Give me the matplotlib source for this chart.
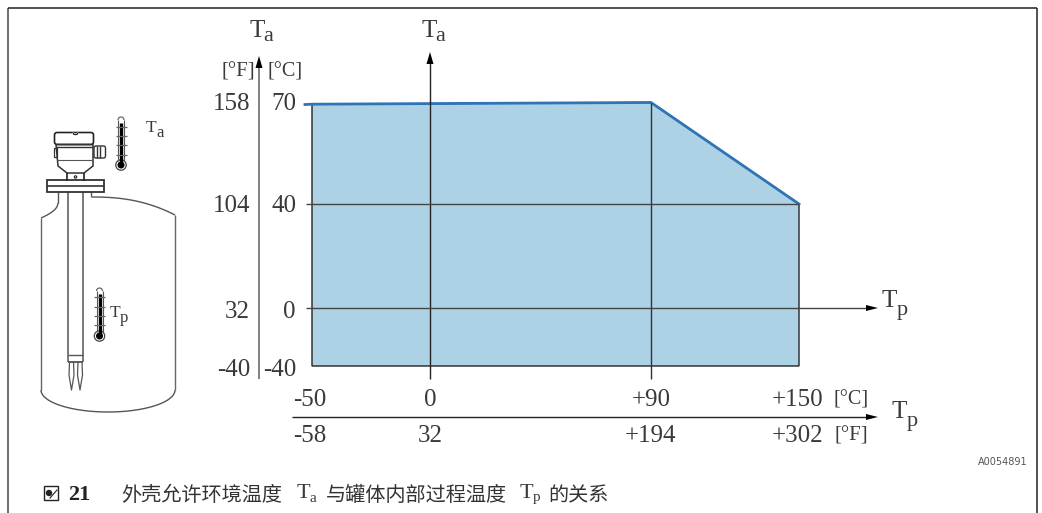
import numpy as np
import matplotlib
matplotlib.use("Agg")
import matplotlib.pyplot as plt
from matplotlib.patches import Circle, FancyBboxPatch, Rectangle

# Values
temp_c = [-50, -50, 90, 150, 150]
ambient_c = [-40, 69.5, 70, 40, -40]
limit_c = [-53, -50, 90, 150]
limit_ambient = [69.4, 69.5, 70, 40]
x_labels_c = ["-50", "0", "+90"]
x_labels_f = ["-58", "32", "+194"]
y_labels_c = ["70", "40", "0", "-40"]
y_labels_f = ["158", "104", "32", "-40"]

# The axes are schematic, so each scale is piecewise between the ticks
x_knots = [-180, -53, -50, 0, 90, 150, 500]
x_pixels = [0, 305, 312, 430, 651, 799, 1042]
y_knots = [-150, -40, 0, 40, 70, 200]
y_pixels = [513, 366, 308, 204, 102.5, 0]

WIDTH, HEIGHT = 1042, 513
TEXT = "#3a3a3a"
LINE = "#333333"
SERIF = "Liberation Serif"
CJK = "Noto Sans CJK SC"


def x_forward(v):
    return np.interp(v, x_knots, x_pixels)


def x_inverse(v):
    return np.interp(v, x_pixels, x_knots)


def y_forward(v):
    return HEIGHT - np.interp(v, y_knots, y_pixels)


def y_inverse(v):
    return np.interp(v, HEIGHT - np.array(y_pixels), y_knots)


fig = plt.figure(figsize=(WIDTH / 100, HEIGHT / 100), dpi=100)

# Chart area, drawn through the scales
ax = fig.add_axes([0, 0, 1, 1])
ax.set_xscale("function", functions=(x_forward, x_inverse))
ax.set_yscale("function", functions=(y_forward, y_inverse))
ax.set_xlim(-180, 500)
ax.set_ylim(-150, 200)
ax.axis("off")
ax.fill(temp_c, ambient_c, facecolor="#add2e6", edgecolor="#222222", linewidth=1.0, zorder=1)
ax.plot(limit_c, limit_ambient, color="#2f74b5", linewidth=2.0, zorder=4)

# Everything else is placed in pixels
px = fig.add_axes([0, 0, 1, 1])
px.set_xlim(0, WIDTH)
px.set_ylim(HEIGHT, 0)
px.axis("off")


def line(xs, ys, color=LINE, lw=1.0, z=3):
    px.plot(xs, ys, color=color, linewidth=lw, solid_capstyle="butt", zorder=z)


def head_up(x, tip, size=12):
    px.fill([x, x - 3.5, x + 3.5], [tip, tip + size, tip + size], color="black", lw=0, zorder=5)


def head_right(tip, y, size=12):
    px.fill([tip, tip - size, tip - size], [y, y - 3, y + 3], color="black", lw=0, zorder=5)


def label(x, y, s, size=18, ha="center", color=TEXT, **kw):
    px.text(x, y, s, fontsize=size, ha=ha, va="center_baseline", color=color, family=SERIF, **kw)


def symbol(x, base, main, sub, size=18, sub_size=16, gap=14.5, drop=4):
    px.text(x, base, main, fontsize=size, ha="left", va="baseline", color=TEXT, family=SERIF)
    px.text(x + gap, base + drop, sub, fontsize=sub_size, ha="left", va="baseline", color=TEXT, family=SERIF)


# Frame
line([8, 8], [8, 513], color="#555555", lw=1.2)
line([8, 1037], [8, 8], color="#222222", lw=1.1)
line([1037, 1037], [8, 513], color="#222222", lw=1.1)

# Axis lines and ticks
line([259, 259], [62, 379], color="#777777", lw=1.3)
head_up(259, 56)
line([430, 430], [60, 379], color="#222222", lw=1.0)
head_up(430, 52)
line([651, 651], [103, 379], color="#333333", lw=1.0)
line([306, 799], [204, 204], color="#444444", lw=1.0)
line([306, 870], [308, 308], color="#444444", lw=1.0)
head_right(878, 308)
line([292, 870], [417, 417], color="#222222", lw=1.0)
head_right(878, 417)

# Axis labels
symbol(249, 37, "T", "a")
symbol(421, 37, "T", "a")
symbol(882, 307, "T", "p", drop=8)
symbol(892, 418, "T", "p", drop=8)
label(238, 69, "[°F]", size=15)
label(285, 69, "[°C]", size=14.5)

for s_f, s_c, y in zip(y_labels_f, y_labels_c, [101, 204, 310, 367]):
    label(250, y, s_f, ha="right")
    label(296, y, s_c, ha="right")
for s_c, s_f, x in zip(x_labels_c, x_labels_f, [310, 430, 651]):
    label(x, 398, s_c)
    label(x, 434, s_f)
label(772, 398, "+150", ha="left")
label(772, 434, "+302", ha="left")
label(851, 398, "[°C]", size=14.5)
label(851, 434, "[°F]", size=15)

px.text(1028, 462, "A0054891", fontsize=7, ha="right", va="center", color="#555555", family="DejaVu Sans")

# Caption
px.add_patch(Rectangle((44, 486), 14, 14, fill=False, edgecolor="#222222", linewidth=1.0))
px.add_patch(Circle((49, 493), 2.5, color="#222222"))
px.plot([50, 57], [498, 490], color="#222222", linewidth=0.8)
label(68, 493, "21", ha="left", size=16, color="#222222", fontweight="bold")
caption = [(121, "外壳允许环境温度"), (326, "与罐体内部过程温度"), (548, "的关系")]
for x, s in caption:
    px.text(x, 493, s, fontsize=14.5, ha="left", va="center_baseline", color="#333333", family=CJK, fontweight="light")
symbol(297, 498, "T", "a", size=16, sub_size=11, gap=12.5, drop=4)
symbol(520, 498, "T", "p", size=16, sub_size=11, gap=12.5, drop=3)

# Tank outline
t = np.linspace(0, 1, 30)
line([58, 58], [192, 203], color="#555555")
line(58 - 17 * t, 203 + 15 * t ** 0.5, color="#555555")
line([91, 91], [192, 196], color="#555555")
line(91 + 84 * t, 197 + 18 * t ** 2.4, color="#555555")
line([41, 41], [218, 390], color="#666666")
line([175, 175], [215, 390], color="#666666")
a = np.linspace(np.pi, 0, 60)
line(108 + 67 * np.cos(a), 390 + 22 * np.sin(a), color="#555555")

# Probe and fork
line([68, 68], [192, 362], color="#555555", lw=1.1)
line([83, 83], [192, 362], color="#555555", lw=1.1)
line([68, 83], [355, 355], color="#555555")
line([68, 83], [362, 362], color="#444444", lw=1.2)
for x0 in [71.5, 80]:
    line([x0 - 2, x0 - 2.5, x0, x0 + 2.5, x0 + 2], [362, 375, 390, 375, 362], color="#555555", lw=0.9)

# Flange
px.add_patch(Rectangle((47, 180), 56.5, 12, fill=False, edgecolor="#333333", linewidth=1.3, zorder=3))
line([47, 103.5], [186, 186], color="#333333", lw=1.2)

# Housing
px.add_patch(FancyBboxPatch((54.5, 132.5), 39, 12, boxstyle="round,pad=0,rounding_size=2.5", facecolor="white", edgecolor="#222222", linewidth=1.2))
line([73, 74, 77, 78], [132.5, 134.5, 134.5, 132.5], color="white", lw=1.4, z=4)
line([73, 74, 77, 78], [132.5, 134.5, 134.5, 132.5], color="#222222", lw=0.9, z=5)
px.fill([56, 93, 93, 84, 67, 58], [144.5, 144.5, 166, 173, 173, 166], fill=False, edgecolor="#333333", linewidth=1.1)
line([56, 93], [147, 147], color="#333333")
line([56.5, 92.5], [160, 160], color="#555555", lw=0.8)
line([67, 67], [173, 181], color="#222222", lw=1.2)
line([84, 84], [173, 181], color="#222222", lw=1.2)
px.add_patch(Circle((75.5, 177), 1.2, fill=False, edgecolor="#222222", linewidth=0.8))
px.add_patch(FancyBboxPatch((94, 146), 11.5, 12, boxstyle="round,pad=0,rounding_size=2", fill=False, edgecolor="#333333", linewidth=1.0))
line([97, 97], [146, 158], color="#333333")
line([100, 100], [146, 158], color="#333333")
px.add_patch(Rectangle((54, 148), 3, 9, fill=False, edgecolor="#333333", linewidth=0.9))


def thermometer(x, top, bulb, ticks):
    a = np.linspace(np.pi, 0, 20)
    line(x + 3 * np.cos(a), top + 3 - 3 * np.sin(a), color="#555555", lw=0.8)
    line([x - 3, x - 3], [top + 3, bulb - 4.5], color="#555555", lw=0.8)
    line([x + 3, x + 3], [top + 3, bulb - 4.5], color="#555555", lw=0.8)
    line([x, x], [top + 6, bulb], color="black", lw=2.4)
    for y in ticks:
        line([x - 5.5, x + 5.5], [y, y], color="#666666", lw=0.9)
    px.add_patch(Circle((x, bulb), 5.2, fill=False, edgecolor="#444444", linewidth=0.9))
    px.add_patch(Circle((x, bulb), 2.8, color="black"))


thermometer(121, 117, 165, [127, 136, 145, 155])
thermometer(99.5, 288, 336, [297, 307, 316, 325])
symbol(146, 132, "T", "a", size=12.5, sub_size=12, gap=10, drop=5)
symbol(110, 317, "T", "p", size=12.5, sub_size=12, gap=10, drop=5)

fig.savefig("out.png", dpi=100)
